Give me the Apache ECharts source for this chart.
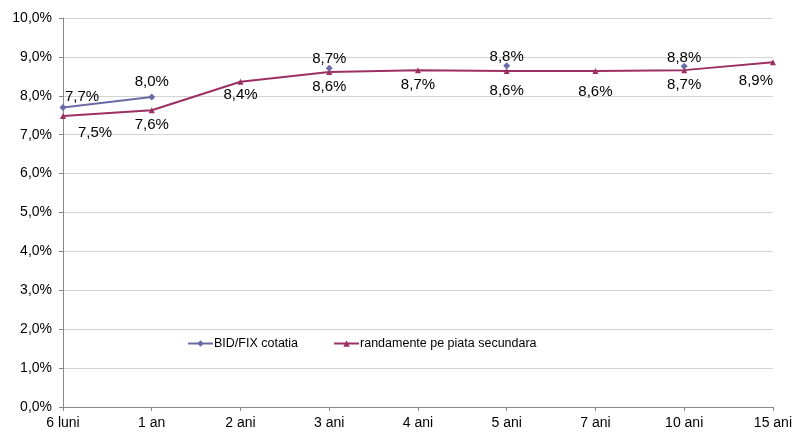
<!DOCTYPE html>
<html>
<head>
<meta charset="utf-8">
<script src="https://cdn.jsdelivr.net/npm/echarts@6/dist/echarts.min.js"></script>
<style>
  html, body { margin: 0; padding: 0; background: #fff; }
  #chart { width: 795px; height: 434px; }
</style>
</head>
<body>
<div id="chart"></div>
<script>
const categories = ['6 luni', '1 an', '2 ani', '3 ani', '4 ani', '5 ani', '7 ani', '10 ani', '15 ani'];
const bidFix = [7.70, 7.97, null, 8.71, null, 8.77, null, 8.76, null];
const randamente = [7.48, 7.63, 8.36, 8.61, 8.66, 8.64, 8.64, 8.66, 8.86];
const seriesNames = ['BID/FIX cotatia', 'randamente pe piata secundara'];

// label nudges per point, so labels sit where the original put them
const bidOffsets = [[19, 2], [0, -2], null, [0, 4], null, [0, 4], null, [0, 5], null];
const randOffsets = [[32, 2], [0, 0], [0, -1], [0, 0], [0, 0], [0, 5], [0, 6], [0, 0], [-17, 4]];

const fmt = v => v.toFixed(1).replace('.', ',') + '%';

const chart = echarts.init(document.getElementById('chart'));

const option = {
  animation: false,
  textStyle: { fontFamily: 'Liberation Sans, Arial, sans-serif' },
  grid: { left: 63, right: 22, top: 18, bottom: 27 },
  legend: {
    left: 182,
    top: 332,
    itemWidth: 25,
    itemHeight: 8,
    itemGap: 35,
    textStyle: { fontSize: 12.5, color: '#000', padding: [0, 0, 0, -4] },
    data: seriesNames
  },
  xAxis: {
    type: 'category',
    data: categories,
    boundaryGap: false,
    axisLine: { lineStyle: { color: '#888', width: 1 } },
    axisTick: { show: true, length: 4, alignWithLabel: true, lineStyle: { color: '#888' } },
    axisLabel: { color: '#000', fontSize: 14, margin: 9 }
  },
  yAxis: {
    type: 'value',
    min: 0,
    max: 10,
    interval: 1,
    axisLine: { show: true, lineStyle: { color: '#888' } },
    axisTick: { show: true, length: 4, lineStyle: { color: '#888' } },
    axisLabel: { color: '#000', fontSize: 14, margin: 11, formatter: v => v.toFixed(1).replace('.', ',') + '%' },
    splitLine: { lineStyle: { color: '#d4d4d4' } }
  },
  series: [
    {
      name: seriesNames[0],
      type: 'line',
      data: bidFix.map((v, i) => ({
        value: v,
        label: bidOffsets[i] ? { offset: bidOffsets[i] } : {}
      })),
      symbol: 'diamond',
      symbolSize: 7,
      connectNulls: false,
      lineStyle: { color: '#6a6aa6', width: 2 },
      itemStyle: { color: '#6a6aa6' },
      label: {
        show: true,
        position: 'top',
        distance: 2,
        fontSize: 15,
        color: '#000',
        formatter: p => fmt(p.value)
      },
      z: 3
    },
    {
      name: seriesNames[1],
      type: 'line',
      data: randamente.map((v, i) => ({
        value: v,
        label: { offset: randOffsets[i] }
      })),
      symbol: 'triangle',
      symbolSize: 6,
      lineStyle: { color: '#9c2f63', width: 2 },
      itemStyle: { color: '#9c2f63' },
      label: {
        show: true,
        position: 'bottom',
        distance: 4,
        fontSize: 15,
        color: '#000',
        formatter: p => fmt(p.value)
      },
      z: 2
    }
  ]
};

chart.setOption(option);
</script>
</body>
</html>
